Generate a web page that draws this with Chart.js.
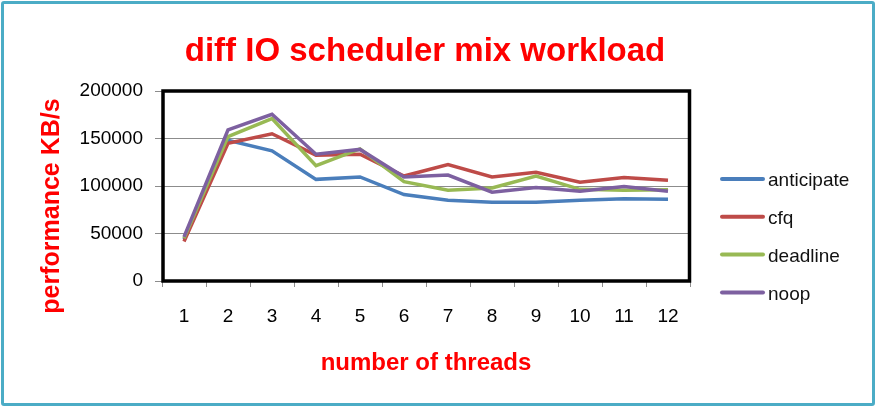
<!DOCTYPE html>
<html>
<head>
<meta charset="utf-8">
<script src="https://cdn.jsdelivr.net/npm/chart.js@4.4.1/dist/chart.umd.min.js"></script>
<style>
  html, body { margin: 0; padding: 0; background: #fff; }
  #wrap { position: relative; width: 876px; height: 407px; }
  #wrap canvas { position: absolute; left: 0; top: 0; }
  #frame { position: absolute; left: 1px; top: 1px; right: 1px; bottom: 1px;
           border: 3px solid #4bacc6; border-radius: 3px; pointer-events: none; }
</style>
</head>
<body>
<div id="wrap">
  <canvas id="io_chart" width="876" height="407"></canvas>
  <div id="frame"></div>
</div>
<script>
// thread counts (x axis)
const threads = ['1', '2', '3', '4', '5', '6', '7', '8', '9', '10', '11', '12'];

// throughput per scheduler, KB/s
const anticipate = [44000, 148000, 137000, 107000, 109500, 91000, 85000, 83000, 83000, 85000, 86500, 86000];
const cfq        = [41500, 145000, 155000, 132500, 133500, 110500, 122500, 109500, 114500, 104000, 109000, 106000];
const deadline   = [45000, 152000, 171000, 121500, 139000, 104500, 95500, 98000, 110500, 96500, 95500, 96000];
const noop       = [46500, 159000, 175500, 133500, 138500, 109500, 111500, 93500, 98500, 94500, 99500, 94500];

const yMin = 0;
const yMax = 200000;
const yStep = 50000;

const FONT = '"Liberation Sans", Arial, sans-serif';

// black frame round the plot area
const plotFrame = {
    id: 'plotFrame',
    beforeDatasetsDraw(chart) {
        const { ctx, chartArea: a } = chart;
        ctx.save();
        ctx.strokeStyle = '#000';
        ctx.lineWidth = 3.5;
        ctx.strokeRect(a.left + 1, a.top, a.width - 1.5, a.height);
        ctx.restore();
    }
};

// rotated y title and the legend on the right
const sideText = {
    id: 'sideText',
    afterDraw(chart) {
        const { ctx, chartArea: a } = chart;
        ctx.save();

        ctx.translate(52, (a.top + a.bottom) / 2 + 20);
        ctx.rotate(-Math.PI / 2);
        ctx.font = 'bold 25px ' + FONT;
        ctx.fillStyle = '#ff0000';
        ctx.textAlign = 'center';
        ctx.textBaseline = 'middle';
        ctx.fillText('performance KB/s', 0, 0);
        ctx.setTransform(1, 0, 0, 1, 0, 0);

        ctx.font = '19px ' + FONT;
        ctx.textAlign = 'left';
        ctx.textBaseline = 'middle';
        chart.data.datasets.forEach((ds, i) => {
            const x = a.right + 32;
            const y = 179 + i * 37.8;
            ctx.strokeStyle = ds.borderColor;
            ctx.lineWidth = 4;
            ctx.lineCap = 'round';
            ctx.beginPath();
            ctx.moveTo(x, y);
            ctx.lineTo(x + 41, y);
            ctx.stroke();
            ctx.fillStyle = '#111';
            ctx.fillText(ds.label, x + 46, y + 2);
        });
        ctx.restore();
    }
};

function line(label, data, color, order) {
    return {
        label: label,
        data: data,
        borderColor: color,
        backgroundColor: color,
        borderWidth: 3.5,
        pointRadius: 0,
        tension: 0,
        fill: false,
        order: order
    };
}

const ctx = document.getElementById('io_chart').getContext('2d');
new Chart(ctx, {
    type: 'line',
    data: {
        labels: threads,
        datasets: [
            line('anticipate', anticipate, '#4a7ebb', 4),
            line('cfq', cfq, '#be4b48', 3),
            line('deadline', deadline, '#98b954', 2),
            line('noop', noop, '#7d60a0', 1)
        ]
    },
    options: {
        responsive: false,
        animation: false,
        layout: { padding: { left: 0, right: 26, top: 0, bottom: 0 } },
        plugins: {
            legend: { display: false },
            tooltip: { enabled: false },
            title: {
                display: true,
                text: 'diff IO scheduler mix workload',
                color: '#ff0000',
                font: { family: FONT, size: 33, weight: 'bold', lineHeight: 1.2 },
                padding: { top: 32, bottom: 19.4 }
            }
        },
        scales: {
            x: {
                offset: true,
                grid: { offset: true, drawOnChartArea: false, drawTicks: true, tickLength: 6, color: '#8c8c8c' },
                border: { display: false },
                ticks: { color: '#000', font: { family: FONT, size: 19 }, padding: 18, maxRotation: 0, autoSkip: false },
                title: {
                    display: true,
                    text: 'number of threads',
                    color: '#ff0000',
                    font: { family: FONT, size: 24, weight: 'bold' },
                    padding: { top: 0, bottom: 29 }
                },
                afterFit(s) { s.height = 126; }
            },
            y: {
                min: yMin,
                max: yMax,
                ticks: {
                    stepSize: yStep,
                    callback: v => String(v),
                    color: '#000',
                    font: { family: FONT, size: 19 },
                    padding: 12
                },
                grid: { color: '#8c8c8c', tickLength: 7 },
                border: { display: false },
                afterFit(s) { s.width = 162; }
            },
            // empty axis that keeps room for the legend
            side: {
                type: 'linear',
                position: 'right',
                grid: { display: false },
                ticks: { display: false },
                border: { display: false },
                afterFit(s) { s.width = 160; }
            }
        }
    },
    plugins: [plotFrame, sideText]
});
</script>
</body>
</html>
